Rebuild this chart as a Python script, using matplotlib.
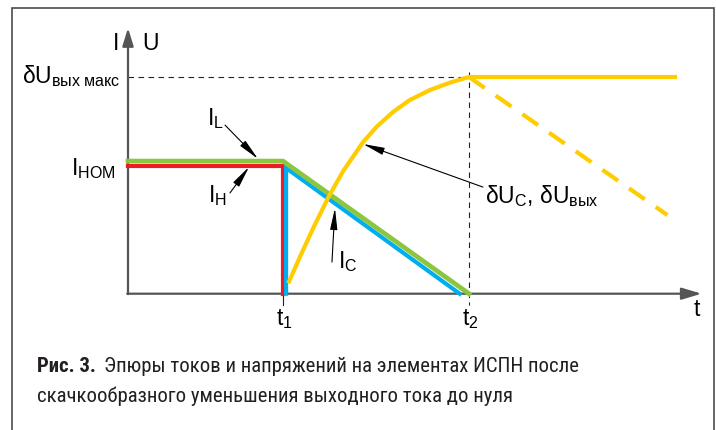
import matplotlib
matplotlib.use("Agg")
import matplotlib.pyplot as plt
from matplotlib import font_manager
from matplotlib.patches import Rectangle

plt.rcParams["font.family"] = ["Liberation Sans", "DejaVu Sans"]
plt.rcParams["mathtext.fontset"] = "custom"
plt.rcParams["mathtext.rm"] = "Liberation Sans"
plt.rcParams["mathtext.it"] = "Liberation Sans:italic"
plt.rcParams["mathtext.bf"] = "Liberation Sans:bold"

# ---- time marks and levels (relative units) ----
T1 = 1.0          # moment of load drop
T2 = 2.2          # inductor current reaches zero
T_AXIS_END = 3.70
I_AXIS_END = 1.226
U_MAX = 1.0       # δU вых макс

# inductor current I_L
il_t = [0.0, T1, T2]
il_v = [0.612, 0.612, 0.0]

# load current I_H
ih_t = [0.0, T1, T1]
ih_v = [0.589, 0.589, 0.0]

# capacitor current I_C
ic_t = [1.02, 1.02, 2.14]
ic_v = [0.0, 0.58, 0.0]

# capacitor / output voltage deviation δU_C, δU_вых
u_t = [1.034, 1.110, 1.195, 1.292, 1.389, 1.518, 1.605, 1.712, 1.819,
       1.948, 2.077, 2.2]
u_v = [0.048, 0.171, 0.303, 0.444, 0.567, 0.701, 0.771, 0.840, 0.894,
       0.940, 0.974, 1.0]

# after t2: held level (solid) and discharged level (dashed)
uhold_t = [2.2, 3.54]
uhold_v = [1.0, 1.0]
udrop_t = [2.2, 3.48]
udrop_v = [1.0, 0.363]

C_GREEN = "#8cc63f"
C_RED = "#ed1c24"
C_BLUE = "#00aeef"
C_YELLOW = "#ffcc00"
C_AXIS = "#555555"

W, H = 716, 430
fig = plt.figure(figsize=(W / 100, H / 100), dpi=100)
fig.patch.set_facecolor("white")

# outer frame of the figure
fig.patches.append(Rectangle((12 / W, -0.05), (714 - 12) / W, 1.05 - 8 / H,
                             transform=fig.transFigure, fill=False,
                             edgecolor="#4d4d4d", lw=1.2))

ax = fig.add_axes([0, 0, 1, 1])
ax.set_xlim(-128 / 155, (W - 128) / 155)
ax.set_ylim(-(H - 293.7) / 216.7, 293.7 / 216.7)
ax.axis("off")

# axes with arrows
ax.annotate("", xy=(0, I_AXIS_END), xytext=(0, -0.002),
            arrowprops=dict(arrowstyle="-|>,head_length=0.9,head_width=0.28",
                            color=C_AXIS, lw=1.6, shrinkA=0, shrinkB=0,
                            mutation_scale=12))
ax.annotate("", xy=(T_AXIS_END, 0), xytext=(-0.005, 0),
            arrowprops=dict(arrowstyle="-|>,head_length=1.0,head_width=0.3",
                            color=C_AXIS, lw=1.6, shrinkA=0, shrinkB=0,
                            mutation_scale=12))

# reference dashed lines
ax.plot([0, T2], [U_MAX, U_MAX], color="#222222", lw=0.8, dashes=(5, 4))
ax.plot([T2, T2], [1.023, -0.052], color="#222222", lw=0.8, dashes=(5, 4))
ax.plot([T1, T1], [-0.012, -0.052], color="#222222", lw=0.8)

# currents
ax.plot(ih_t, ih_v, color=C_RED, lw=3.0, solid_joinstyle="miter", zorder=3)
ax.plot(ic_t, ic_v, color=C_BLUE, lw=3.0, solid_joinstyle="miter", zorder=3)
ax.plot(il_t, il_v, color=C_GREEN, lw=3.4, solid_joinstyle="miter", zorder=4)

# voltage
ax.plot(u_t, u_v, color=C_YELLOW, lw=3.0, solid_capstyle="butt",
        solid_joinstyle="round", zorder=5)
ax.plot(uhold_t, uhold_v, color=C_YELLOW, lw=3.0, solid_capstyle="butt", zorder=5)
ax.plot(udrop_t, udrop_v, color=C_YELLOW, lw=3.0, dashes=(4.6, 3.2),
        dash_capstyle="butt", zorder=5)

FS = 16.5
ax.text(-0.077, 1.155, "I", fontsize=FS, ha="center", va="center")
ax.text(0.142, 1.155, "U", fontsize=FS, ha="center", va="center")
ax.text(-0.052, 0.972, r"δ$\mathrm{U}_{\mathrm{вых\ макс}}$", fontsize=FS,
        ha="right", va="baseline")
ax.text(-0.077, 0.548, r"$\mathrm{I}_{\mathrm{НОМ}}$", fontsize=FS,
        ha="right", va="baseline")
ax.text(0.51, 0.778, r"$\mathrm{I}_{\mathrm{L}}$", fontsize=FS,
        ha="left", va="baseline")
ax.text(0.516, 0.423, r"$\mathrm{I}_{\mathrm{H}}$", fontsize=FS,
        ha="left", va="baseline")
ax.text(1.355, 0.119, r"$\mathrm{I}_{\mathrm{C}}$", fontsize=FS,
        ha="left", va="baseline")
ax.text(2.303, 0.419, r"δ$\mathrm{U}_{\mathrm{C}}$, δ$\mathrm{U}_{\mathrm{вых}}$",
        fontsize=FS, ha="left", va="baseline")
ax.text(T1 + 0.01, -0.146, r"$\mathrm{t}_{1}$", fontsize=FS, ha="center",
        va="baseline")
ax.text(T2 + 0.01, -0.146, r"$\mathrm{t}_{2}$", fontsize=FS, ha="center",
        va="baseline")
ax.text(3.671, -0.103, "t", fontsize=FS, ha="center", va="baseline")

# pointer arrows
arrow_kw = dict(arrowstyle="-|>,head_length=1.3,head_width=0.22", color="black",
                lw=0.8, shrinkA=0, shrinkB=0, mutation_scale=10)
pointers = [
    ((0.839, 0.622), (0.626, 0.778)),   # I_L
    ((0.781, 0.585), (0.658, 0.465)),   # I_H
    ((1.335, 0.395), (1.316, 0.146)),   # I_C
    ((1.516, 0.691), (2.29, 0.492)),    # δU
]
for tip, tail in pointers:
    ax.annotate("", xy=tip, xytext=tail, arrowprops=arrow_kw, zorder=6)

# caption
available = {f.name for f in font_manager.fontManager.ttflist}
cap_font = "Roboto"
for name in ["Roboto Condensed", "Liberation Sans Narrow", "Open Sans Condensed",
             "Roboto"]:
    if name in available:
        cap_font = name
        break

line1_bold = "Рис. 3."
line1_rest = "Эпюры токов и напряжений на элементах ИСПН после"
line2 = "скачкообразного уменьшения выходного тока до нуля"
CAP_X0, CAP_X1 = 37, 578
CAP_Y1, CAP_Y2 = 372, 402

cap_fs = 14
t_bold = fig.text(CAP_X0 / W, 1 - CAP_Y1 / H, line1_bold, fontsize=cap_fs,
                  fontweight="bold", family=cap_font, color="#231f20",
                  va="baseline")
t_rest = fig.text(0, 1 - CAP_Y1 / H, line1_rest, fontsize=cap_fs,
                  family=cap_font, color="#231f20", va="baseline")
t_two = fig.text(CAP_X0 / W, 1 - CAP_Y2 / H, line2, fontsize=cap_fs,
                 family=cap_font, color="#231f20", va="baseline")

renderer = fig.canvas.get_renderer()
gap = 8
for _ in range(3):
    wb = t_bold.get_window_extent(renderer).width
    wr = t_rest.get_window_extent(renderer).width
    total = wb + gap + wr
    cap_fs *= (CAP_X1 - CAP_X0) / total
    for t in (t_bold, t_rest, t_two):
        t.set_fontsize(cap_fs)
wb = t_bold.get_window_extent(renderer).width
t_rest.set_x((CAP_X0 + wb + gap) / W)

fig.savefig("out.png", dpi=100, facecolor="white")
